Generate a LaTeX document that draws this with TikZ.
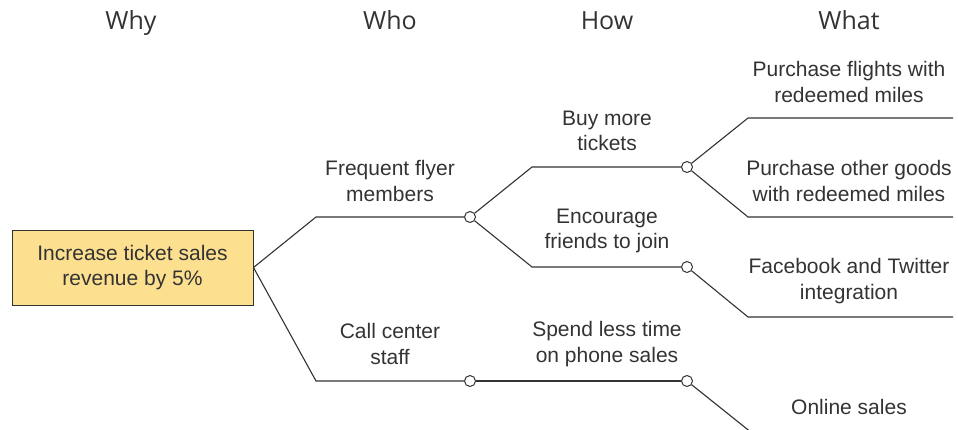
\documentclass[tikz,border=0pt]{standalone}
\usepackage{fontspec}
\setmainfont{Liberation Sans}
\newfontfamily\hdrfont{Open Sans}
\definecolor{goalfill}{HTML}{FDDF90}
\definecolor{ink}{HTML}{333333}
\begin{document}
\begin{tikzpicture}[x=1pt,y=-1pt,
  line/.style={draw=ink, line width=1.1pt},
  dot/.style={circle, draw=ink, fill=white, line width=1pt, inner sep=0pt, minimum size=11pt},
  lbl/.style={align=center, font=\fontsize{21}{25.5}\selectfont, text=ink, inner sep=0pt},
  hdr/.style={font=\hdrfont\fontsize{25}{30}\selectfont, text=ink, inner sep=0pt, anchor=base},
  goalbox/.style={draw=ink, line width=1pt, fill=goalfill, minimum width=241pt, minimum height=75pt, align=center, font=\fontsize{21}{25.5}\selectfont, text=ink, inner sep=0pt}]
\clip (0,0) rectangle (958,429);
% headers
\node[hdr] (hwhy) at (131,29) {Why};
\node[hdr] (hwho) at (390,29) {Who};
\node[hdr] (hhow) at (607,29) {How};
\node[hdr] (hwhat) at (849,29) {What};
% goal
\node[goalbox] (goal) at (132.5,267.5) {Increase ticket sales\\revenue by 5\%};
% corner coordinates
\coordinate (a1) at (316,217);
\coordinate (a2) at (316,381);
\coordinate (b1) at (532,167);
\coordinate (b2) at (532,267);
\coordinate (e1) at (748,118);
\coordinate (e1r) at (953,118);
\coordinate (e2) at (748,217);
\coordinate (e2r) at (953,217);
\coordinate (e3) at (748,317);
\coordinate (e3r) at (953,317);
\coordinate (e4) at (749.5,431);
% dots
\node[dot] (c1) at (470,217) {};
\node[dot] (c2) at (470,381) {};
\node[dot] (d1) at (687,167) {};
\node[dot] (d2) at (687,267) {};
\node[dot] (d3) at (687,381) {};
% connectors
\draw[line] (goal.east) -- (a1) -- (c1);
\draw[line] (goal.east) -- (a2) -- (c2);
\draw[line] (c1) -- (b1) -- (d1);
\draw[line] (c1) -- (b2) -- (d2);
\draw[line] (c2) -- (d3);
\draw[line] (d1) -- (e1) -- (e1r);
\draw[line] (d1) -- (e2) -- (e2r);
\draw[line] (d2) -- (e3) -- (e3r);
\draw[line] (d3) -- (e4);
% labels
\node[lbl] (lff) at (390,181) {Frequent flyer\\members};
\node[lbl] (lcc) at (390,344) {Call center\\staff};
\node[lbl] (lbt) at (607,131) {Buy more\\tickets};
\node[lbl] (lef) at (607,231) {Encourage\\friends to join};
\node[lbl] (lsl) at (607,344) {Spend less time\\on phone sales};
\node[lbl] (lpf) at (849,82) {Purchase flights with\\redeemed miles};
\node[lbl] (lpo) at (849,181) {Purchase other goods\\with redeemed miles};
\node[lbl] (lft) at (849,281) {Facebook and Twitter\\integration};
\node[lbl] (los) at (849,407) {Online sales};
\end{tikzpicture}
\end{document}
